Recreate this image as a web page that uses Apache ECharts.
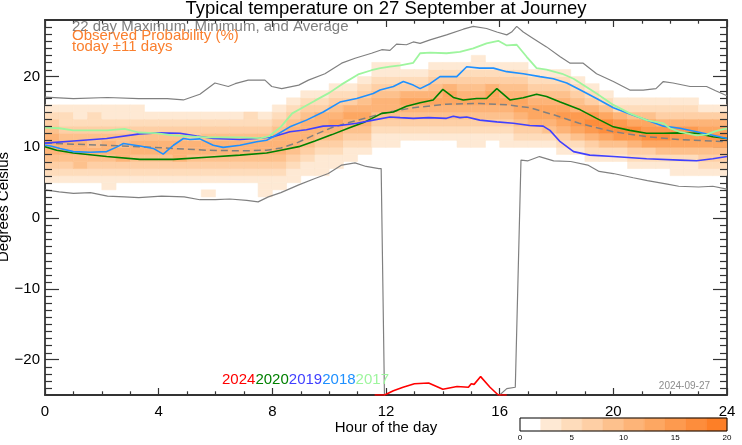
<!DOCTYPE html>
<html><head><meta charset="utf-8">
<script src="https://cdn.jsdelivr.net/npm/echarts@6/dist/echarts.min.js"></script>
<style>html,body{margin:0;padding:0;background:#fff}#c{width:742px;height:445px}</style>
</head><body><div id="c"></div>
<script>
// ---------- data ----------
const hourTicks = [0, 4, 8, 12, 16, 20, 24];
const tempTicks = [-20, -10, 0, 10, 20];
const colorbarTicks = [0, 5, 10, 15, 20];
const probClassEdges = [0, 2, 4, 6, 8, 10, 12, 14, 16, 18, 20];
const levelColors = ['#ffffff', '#fee9d4', '#fedcbb', '#fecfa5', '#fdc18d', '#fdb478', '#fda762', '#fd9a4f', '#fd8d3c', '#fd7f27'];
const yearNames = ['2024', '2020', '2019', '2018', '2017'];
const yearColors = ['#ff0000', '#008000', '#4040ff', '#1e90ff', '#9ef59e'];

// observed probability: one column per half hour; lowest 1-degree bin and colour class (0..9 => 0-2%..18-20%) upward
const probLow = [5,5,5,5,4,5,5,5, 5,5,5,3,5,5,5,3, 4,5,6,6,7,8,9,10, 10,11,11,11,11,10,10,11, 10,10,10,10,9,9,8,8, 8,7,7,7,6,6,6,6];
const probLevels = [
 "12345554321","12345543221","12445543211","12345443221","112345543211","12355443211","12345543211","1234554321",
 "1234554321","1235554321","1234553321","101234554321","1234554321","1234554321","1234554322","111234554321",
 "112345554321","112345554321","112345554321","111234555321","112345654321","11234565321","12345654321","112345543211",
 "112345543211","1234565321","1234565321","12345654321","12345665321","112345654321","1123456543211","12345665321",
 "112345654321","123456654321","12356654321","12456654321","123567654321","12467754321","12357875321","1246886421",
 "124787521","1235786421","1236876421","1246875321","11246775321","11246775321","1234676531","1234676531"
];

const maxLine = [[0,17.1],[1.0,16.9],[2.2,17.05],[3.3,16.9],[4.3,16.9],[4.87,16.7],[5.45,17.5],[5.98,19.1],[6.45,18.6],[6.69,19.0],[7.15,19.5],[7.74,19.5],[7.98,18.6],[8.33,18.3],[8.93,18.8],[9.27,19.5],[9.85,20.4],[10.44,21.9],[10.91,22.6],[11.49,23.3],[11.85,23.8],[12.14,23.7],[12.37,24.6],[12.72,24.5],[12.96,24.9],[13.2,24.7],[13.55,25.2],[14.13,25.9],[14.72,26.7],[15.07,27.1],[15.54,26.8],[15.9,26.3],[16.25,25.9],[16.42,26.3],[16.6,27.1],[16.83,26.3],[17.18,25.4],[17.65,24.2],[18.13,22.8],[18.48,21.9],[18.94,21.9],[19.41,20.4],[20.0,19.3],[20.58,18.1],[21.05,18.1],[21.5,18.3],[21.76,19.3],[22.1,19.1],[22.7,18.6],[23.28,18.6],[23.6,18.0],[24,17.3]];
const minLine = [[0,4.0],[0.5,3.7],[1.0,3.5],[1.6,3.6],[2.2,3.1],[2.8,3.0],[3.3,2.9],[4.1,3.1],[4.9,3.0],[5.45,2.6],[6.0,2.6],[6.5,2.7],[7.1,2.5],[7.5,2.3],[7.86,3.0],[8.3,3.6],[8.93,4.7],[9.5,5.6],[9.97,6.3],[10.44,7.5],[10.91,7.8],[11.3,7.3],[11.75,7.0],[11.83,7.0],[12.0,-40],[15.9,-40],[16.0,-25],[16.25,-24.1],[16.55,-23.9],[16.75,8.2],[17.0,8.1],[17.4,8.7],[17.9,8.1],[18.5,8.0],[19.1,7.5],[19.5,6.6],[20.0,6.3],[20.7,5.7],[21.2,5.3],[21.9,4.8],[22.3,4.5],[23.0,4.4],[23.5,4.5],[24,4.1]];
const avgLine = [[0,10.6],[1.0,10.45],[2.2,10.3],[3.3,10.1],[4.5,9.85],[5.7,9.6],[6.9,9.5],[7.8,9.6],[8.3,9.9],[8.9,10.7],[9.5,11.8],[10.1,12.8],[10.7,13.5],[11.26,14.1],[11.85,14.8],[12.4,15.2],[12.96,15.6],[14.1,16.1],[15.3,16.2],[16.3,16.0],[17.06,15.6],[17.9,14.6],[18.8,13.4],[20,12.2],[21.2,11.5],[22.3,11.1],[23.5,10.9],[24,10.8]];
const y2017 = [[0,12.8],[0.5,12.7],[1.0,12.4],[2.2,12.4],[2.8,12.6],[3.3,12.1],[3.9,12.0],[4.5,11.7],[5.7,11.4],[6.9,11.4],[7.6,11.3],[7.9,11.6],[8.3,12.9],[8.7,14.8],[9.15,15.8],[9.5,16.6],[10.0,17.7],[10.44,18.9],[11.02,20.3],[11.49,20.9],[11.8,21.2],[12.14,21.4],[12.5,21.6],[12.96,21.95],[13.2,23.3],[13.55,23.4],[14.13,23.3],[14.6,23.5],[15.07,24.0],[15.54,24.7],[15.95,25.06],[16.25,24.4],[16.6,24.5],[16.95,22.8],[17.3,21.2],[17.65,21.0],[18.2,20.4],[18.6,19.7],[19.41,17.6],[20,16.0],[20.58,14.8],[21.17,13.85],[21.76,13.4],[21.99,12.7],[22.34,12.2],[22.93,11.7],[23.28,11.8],[23.6,12.3],[24,12.7]];
const y2018 = [[0,10.3],[0.2,10.2],[0.53,9.85],[1.0,9.4],[1.58,9.3],[2.17,9.4],[2.5,10.0],[2.76,10.55],[3.34,10.2],[3.81,9.85],[4.16,9.05],[4.52,10.3],[4.87,11.25],[5.1,11.1],[5.45,11.2],[5.92,10.3],[6.27,10.0],[6.86,10.3],[7.45,10.8],[7.8,11.0],[8.03,11.5],[8.62,12.9],[9.2,13.85],[9.79,15.0],[10.38,16.4],[10.97,16.9],[11.55,17.6],[11.79,18.1],[12.26,18.6],[12.61,19.3],[12.96,18.8],[13.2,18.3],[13.55,19.0],[13.9,20.0],[14.49,20.0],[14.84,21.4],[15.3,21.2],[15.78,21.2],[16.25,20.7],[16.83,20.4],[17.42,20.0],[17.89,19.7],[18.36,19.1],[18.84,18.1],[19.41,16.9],[20.0,15.6],[20.58,14.7],[21.17,13.85],[21.76,13.0],[22.34,12.7],[22.93,12.2],[23.5,11.7],[24,11.25]];
const y2019 = [[0,10.6],[1.0,10.9],[2.17,11.25],[3.34,11.9],[3.93,12.05],[4.75,12.0],[5.34,11.6],[5.92,11.25],[6.86,11.1],[7.45,11.25],[8.03,11.5],[8.62,12.2],[9.2,12.5],[9.79,13.0],[10.38,13.1],[10.97,13.4],[11.55,13.85],[12.14,14.3],[12.5,14.2],[12.96,14.1],[13.5,14.2],[14.13,14.1],[14.37,14.4],[14.6,14.2],[14.84,14.3],[15.3,13.85],[15.9,13.6],[16.48,13.4],[17.06,13.1],[17.53,13.0],[17.77,12.4],[18.13,10.8],[18.6,9.4],[19.17,8.9],[20.0,8.7],[21.17,8.4],[22.34,8.2],[22.93,8.1],[23.5,8.4],[24,8.7]];
const y2020 = [[0,10.1],[0.41,9.6],[1.0,9.2],[2.17,8.7],[3.34,8.3],[4.52,8.3],[5.69,8.6],[6.86,8.9],[7.8,9.2],[8.3,9.6],[8.93,10.1],[9.5,10.9],[10.1,11.8],[10.67,12.7],[11.26,13.6],[11.85,14.8],[12.26,15.0],[12.72,15.8],[13.2,16.3],[13.66,16.7],[14.0,18.2],[14.37,17.05],[14.72,16.7],[15.19,16.9],[15.54,16.9],[15.9,18.3],[16.36,16.7],[16.83,17.0],[17.3,17.5],[17.65,17.2],[18.13,16.4],[18.84,15.3],[19.41,14.1],[20.0,12.9],[20.58,12.4],[21.17,12.0],[21.76,12.0],[22.34,12.05],[22.93,12.0],[23.5,11.5],[24,11.25]];
const y2024 = [[11.6,-25],[11.95,-25],[12.26,-24.4],[12.6,-23.9],[13.0,-23.4],[13.5,-23.3],[14.0,-24.2],[14.5,-23.8],[14.9,-23.9],[15.0,-23.4],[15.1,-23.5],[15.33,-22.4],[15.66,-23.9],[15.95,-25],[16.25,-25]];

// ---------- chart ----------
const FONT = '"Liberation Sans", Arial, Helvetica, sans-serif';
const Y_MIN = -25, Y_MAX = 28, X_MIN = 0, X_MAX = 24;
const minorTemps = [];
for (let t = Y_MIN + 1; t < Y_MAX; t++) if (t % 10 !== 0) minorTemps.push([t]);

const heatCells = [];
probLevels.forEach((s, c) => {
  for (let k = 0; k < s.length; k++) {
    const lev = +s[k];
    if (lev > 0) heatCells.push([c * 0.5, probLow[c] + k, lev]);
  }
});
const barCells = [];
for (let i = 0; i < probClassEdges.length - 1; i++) barCells.push([probClassEdges[i], probClassEdges[i + 1], i]);

const AXIS_COL = '#333';
function renderHeat(params, api) {
  const h = api.value(0), v = api.value(1), lev = api.value(2);
  const p0 = api.coord([h, v + 1]);
  const p1 = api.coord([h + 0.5, v]);
  return { type: 'rect', shape: { x: p0[0], y: p0[1], width: p1[0] - p0[0], height: p1[1] - p0[1] },
    style: { fill: levelColors[lev], stroke: levelColors[lev], lineWidth: 0.6 } };
}
function renderBar(params, api) {
  const a = api.value(0), b = api.value(1), lev = api.value(2);
  const p0 = api.coord([a, 1]);
  const p1 = api.coord([b, 0]);
  return { type: 'rect', shape: { x: p0[0], y: p0[1], width: p1[0] - p0[0], height: p1[1] - p0[1] },
    style: { fill: levelColors[lev], stroke: levelColors[lev], lineWidth: 0.5 } };
}
function renderMinorTick(params, api) {
  const t = api.value(0);
  const pl = api.coord([X_MIN, t]);
  const pr = api.coord([X_MAX, t]);
  const y = Math.round(pl[1]) + 0.5;
  return { type: 'group', children: [
    { type: 'line', shape: { x1: pl[0], y1: y, x2: pl[0] + 7, y2: y }, style: { stroke: AXIS_COL, lineWidth: 1.2 } },
    { type: 'line', shape: { x1: pr[0] - 7, y1: y, x2: pr[0], y2: y }, style: { stroke: AXIS_COL, lineWidth: 1.2 } }
  ] };
}

const axisLineBlack = { show: true, onZero: false, lineStyle: { color: AXIS_COL, width: 1.8 } };
const tickBlack = { color: AXIS_COL, width: 1.2 };
function xAx(pos, labels) {
  return { gridIndex: 0, type: 'value', min: X_MIN, max: X_MAX, interval: 4, position: pos,
    axisLine: axisLineBlack,
    axisTick: { show: true, inside: true, length: 7, lineStyle: tickBlack },
    minorTick: { show: true, splitNumber: 4, length: 3.7, lineStyle: tickBlack },
    axisLabel: { show: labels, color: '#000', fontSize: 15, fontFamily: FONT, margin: 9, showMinLabel: true, showMaxLabel: true },
    splitLine: { show: false }, minorSplitLine: { show: false } };
}
function yAx(pos) {
  return { gridIndex: 0, type: 'value', min: Y_MIN, max: Y_MAX, position: pos,
    axisLine: axisLineBlack,
    axisTick: { show: true, inside: true, length: 14, customValues: tempTicks, lineStyle: tickBlack },
    axisLabel: { show: pos === 'left', customValues: tempTicks, color: '#000', fontSize: 15, fontFamily: FONT, margin: 5,
      formatter: v => (v < 0 ? '\u2212' + Math.abs(v) : String(v)) },
    splitLine: { show: false } };
}

function lineS(name, data, color, width, dash, z) {
  return { type: 'line', name, data, xAxisIndex: 0, yAxisIndex: 0, showSymbol: false, symbol: 'none',
    clip: true, silent: true, z: z || 3,
    lineStyle: { color, width, type: dash ? [7, 4] : 'solid' } };
}

const texts = [
  { type: 'text', x: 386, y: 9, style: { text: 'Typical temperature on 27 September at Journey', fill: '#000', font: '18.5px ' + FONT, textAlign: 'center', textVerticalAlign: 'middle' } },
  { type: 'text', x: 72, y: 27, z: 50, style: { text: '22 day Maximum, Minimum, and Average', fill: '#808080', font: '15px ' + FONT, textAlign: 'left', textVerticalAlign: 'middle' } },
  { type: 'text', x: 72, y: 36, z: 51, style: { text: 'Observed Probability (%)', fill: '#fa7f2e', font: '15px ' + FONT, textAlign: 'left', textVerticalAlign: 'middle' } },
  { type: 'text', x: 72, y: 47, z: 51, style: { text: 'today \u00b111 days', fill: '#fa7f2e', font: '15px ' + FONT, textAlign: 'left', textVerticalAlign: 'middle' } },
  { type: 'text', x: 386, y: 428, style: { text: 'Hour of the day', fill: '#000', font: '15px ' + FONT, textAlign: 'center', textVerticalAlign: 'middle' } },
  { type: 'text', x: 4, y: 207, rotation: Math.PI / 2, style: { text: 'Degrees Celsius', fill: '#000', font: '15px ' + FONT, textAlign: 'center', textVerticalAlign: 'middle' } },
  { type: 'text', x: 710, y: 386, z: 50, style: { text: '2024-09-27', fill: '#8c8c8c', font: '10px ' + FONT, textAlign: 'right', textVerticalAlign: 'middle' } },
  { type: 'rect', shape: { x: 520, y: 418, width: 207, height: 13 }, z: 60, style: { fill: 'none', stroke: '#000', lineWidth: 1 } }
];
let yx = 222;
yearNames.forEach((n, i) => {
  texts.push({ type: 'text', x: yx, y: 380, z: 50, style: { text: n, fill: yearColors[i], font: '15px ' + FONT, textAlign: 'left', textVerticalAlign: 'middle' } });
  yx += 33.4;
});

const chart = echarts.init(document.getElementById('c'), null, { renderer: 'canvas', width: 742, height: 445 });
chart.setOption({
  animation: false,
  backgroundColor: '#fff',
  textStyle: { fontFamily: FONT },
  grid: [
    { left: 45, right: 15, top: 20, bottom: 50, containLabel: false },
    { left: 520, width: 207, top: 418, height: 13, containLabel: false }
  ],
  xAxis: [
    xAx('bottom', true),
    xAx('top', false),
    { gridIndex: 1, type: 'value', min: 0, max: 20, position: 'bottom',
      axisLine: { show: false, onZero: false }, axisTick: { show: false }, splitLine: { show: false },
      axisLabel: { customValues: colorbarTicks, color: '#000', fontSize: 8, fontFamily: FONT, margin: 3, showMinLabel: true, showMaxLabel: true } }
  ],
  yAxis: [
    yAx('left'), yAx('right'),
    { gridIndex: 1, type: 'value', min: 0, max: 1, show: false }
  ],
  series: [
    { type: 'custom', xAxisIndex: 0, yAxisIndex: 0, renderItem: renderHeat, data: heatCells, encode: { x: 0, y: 1 }, z: 1, silent: true, clip: true },
    lineS('max', maxLine, '#808080', 1.2, false, 3),
    lineS('min', minLine, '#808080', 1.2, false, 3),
    lineS('avg', avgLine, '#808080', 1.5, true, 4),
    lineS('2024', y2024, yearColors[0], 1.6, false, 5),
    lineS('2020', y2020, yearColors[1], 1.6, false, 5),
    lineS('2019', y2019, yearColors[2], 1.6, false, 5),
    lineS('2018', y2018, yearColors[3], 1.6, false, 5),
    lineS('2017', y2017, yearColors[4], 1.8, false, 5),
    { type: 'custom', xAxisIndex: 0, yAxisIndex: 0, renderItem: renderMinorTick, data: minorTemps, encode: { y: 0 }, z: 6, silent: true, clip: false },
    { type: 'custom', xAxisIndex: 2, yAxisIndex: 2, renderItem: renderBar, data: barCells, encode: { x: [0, 1], y: 2 }, z: 1, silent: true }
  ],
  graphic: texts
});
</script>
</body></html>
